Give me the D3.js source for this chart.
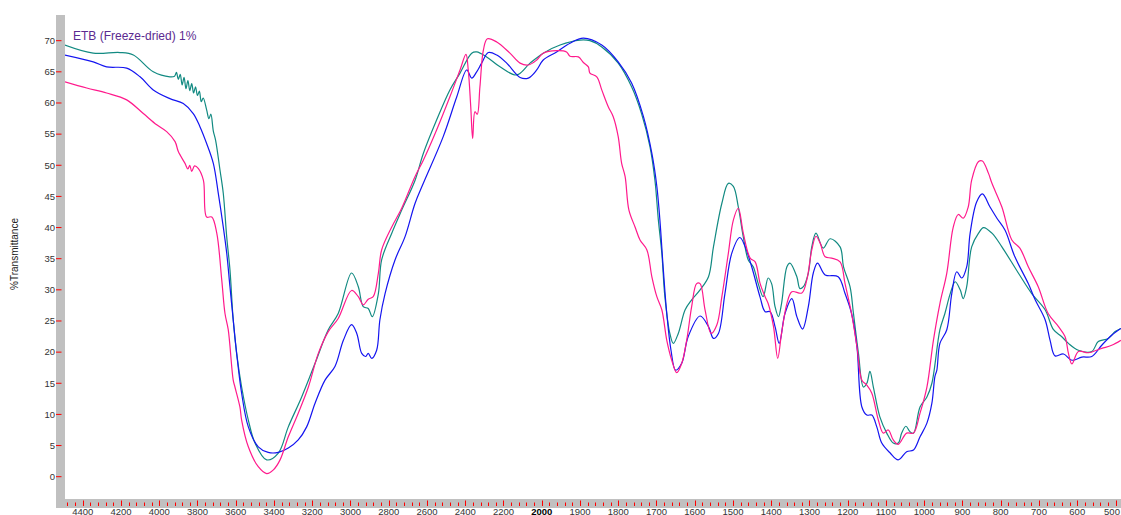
<!DOCTYPE html>
<html>
<head>
<meta charset="utf-8">
<script src="https://cdn.jsdelivr.net/npm/d3@7"></script>
<style>
  html, body { margin: 0; padding: 0; background: #fff; }
  svg { display: block; font-family: "Liberation Sans", Arial, sans-serif; }
</style>
</head>
<body>
<svg id="chart" width="1121" height="515"></svg>
<script>
// Spectrum title and axis labels
const chartTitle = "ETB (Freeze-dried) 1%";
const yAxisTitle = "%Transmittance";

// Axis ticks
const yTickValues = [0, 5, 10, 15, 20, 25, 30, 35, 40, 45, 50, 55, 60, 65, 70];
const xTickValues = [4400, 4200, 4000, 3800, 3600, 3400, 3200, 3000, 2800, 2600, 2400, 2200, 2000,
                     1900, 1800, 1700, 1600, 1500, 1400, 1300, 1200, 1100, 1000, 900, 800, 700, 600, 500];

// Spectra: [wavenumber cm-1, %T]
const tealSpectrum = [
  [4493,69.3],[4345,68.0],[4205,68.1],[4135,67.7],[4031,65.0],[3944,64.2],
  [3920,64.3],[3910,64.9],[3900,63.8],[3890,64.6],[3880,62.9],[3870,64.1],[3860,62.3],
  [3850,63.6],[3840,62.0],[3830,63.1],[3820,61.6],[3810,62.6],[3800,61.2],[3790,61.9],
  [3780,60.2],[3770,60.8],[3752,58.9],[3740,57.5],[3730,58.2],[3717,55.5],[3705,54.0],
  [3682,49.2],[3665,45.5],[3647,38.5],[3630,33.2],[3613,25.2],[3595,19.8],[3569,14.4],
  [3534,9.1],[3499,5.4],[3438,2.7],[3377,3.8],[3325,8.0],[3255,12.8],[3185,18.2],
  [3116,23.6],[3064,26.2],[2994,32.7],[2959,30.5],[2933,27.3],[2907,27.0],[2886,25.7],
  [2854,29.4],[2837,34.8],[2784,39.1],[2732,42.8],[2662,47.6],[2619,51.9],[2549,57.3],
  [2480,62.1],[2427,64.8],[2366,68.0],[2340,68.2],[2288,67.4],[2218,65.8],[2131,64.5],
  [2061,66.4],[1996,68.0],[1952,69.3],[1900,70.1],[1874,70.0],[1843,69.0],[1800,66.4],
  [1765,62.6],[1739,58.3],[1717,53.0],[1704,47.6],[1695,41.2],[1686,35.9],[1678,28.9],
  [1665,23.0],[1656,21.4],[1643,23.0],[1625,26.8],[1608,28.4],[1586,30.0],[1564,32.1],
  [1551,36.9],[1529,43.9],[1512,47.1],[1499,46.6],[1486,43.3],[1473,38.5],[1460,34.8],
  [1447,33.7],[1434,31.0],[1421,28.9],[1408,31.9],[1399,31.0],[1390,27.3],[1381,25.7],
  [1373,27.8],[1359,33.7],[1351,34.3],[1333,32.1],[1325,30.2],[1316,30.5],[1303,32.7],
  [1294,36.9],[1283,39.1],[1264,36.7],[1246,38.2],[1220,36.9],[1211,33.7],[1194,30.5],
  [1185,26.2],[1172,19.8],[1159,14.4],[1150,15.0],[1142,16.9],[1133,14.4],[1116,9.6],
  [1098,7.0],[1081,5.4],[1068,5.4],[1059,7.0],[1048,8.1],[1037,7.2],[1028,7.0],
  [1011,11.2],[993,12.8],[980,15.0],[959,23.6],[946,26.2],[932,29.4],[919,31.3],
  [906,30.0],[898,28.6],[889,30.5],[876,36.9],[858,39.1],[845,40.0],[823,39.1],
  [797,36.9],[754,32.7],[719,29.4],[684,26.8],[662,23.6],[641,22.5],[623,21.4],
  [597,20.3],[562,20.1],[545,21.7],[519,22.2],[501,23.3],[486,23.8]
];

const blueSpectrum = [
  [4493,67.7],[4345,66.6],[4275,65.8],[4170,65.6],[4100,64.2],[4031,62.1],[3944,60.7],
  [3874,59.9],[3822,58.3],[3787,56.2],[3752,53.5],[3717,50.3],[3691,45.5],[3665,40.1],
  [3647,35.9],[3630,30.5],[3613,25.2],[3595,19.8],[3569,13.4],[3534,8.0],[3482,4.8],
  [3430,3.9],[3377,3.9],[3325,4.6],[3273,5.9],[3229,8.0],[3185,11.8],[3133,15.5],
  [3081,17.7],[3037,21.9],[2994,24.4],[2967,23.0],[2941,19.8],[2920,19.3],[2907,19.8],
  [2889,19.0],[2863,20.3],[2846,25.2],[2819,29.4],[2767,34.8],[2715,38.5],[2662,43.9],
  [2619,47.1],[2515,54.6],[2444,61.0],[2392,65.3],[2366,64.0],[2340,65.0],[2314,66.4],
  [2279,68.1],[2235,67.7],[2183,66.4],[2113,64.1],[2070,64.0],[2026,65.3],[1996,66.9],
  [1961,68.2],[1926,69.6],[1891,70.4],[1843,69.3],[1800,66.6],[1765,63.2],[1734,57.8],
  [1712,51.9],[1699,46.6],[1691,41.2],[1682,33.2],[1673,26.2],[1662,20.3],[1650,17.1],
  [1634,18.2],[1617,22.5],[1586,25.8],[1564,24.1],[1551,22.2],[1538,23.0],[1521,29.4],
  [1503,35.9],[1482,38.4],[1468,36.9],[1451,33.7],[1429,28.8],[1416,26.5],[1403,26.5],
  [1390,24.1],[1379,21.4],[1364,26.2],[1346,28.6],[1333,25.7],[1318,23.7],[1303,27.3],
  [1290,32.7],[1279,34.3],[1259,32.4],[1225,32.1],[1207,29.4],[1190,26.2],[1176,20.9],
  [1163,11.2],[1150,9.9],[1137,9.9],[1124,8.0],[1111,5.4],[1089,3.8],[1068,2.7],
  [1046,4.0],[1028,4.3],[1011,6.4],[993,8.6],[980,11.8],[972,16.1],[967,17.1],
  [959,21.4],[941,23.6],[928,29.4],[915,32.9],[902,31.9],[889,33.7],[880,39.1],
  [863,44.1],[848,45.4],[828,43.3],[810,41.5],[789,39.6],[763,35.3],[728,31.0],
  [710,28.4],[684,25.2],[671,21.9],[658,19.4],[636,19.7],[614,18.7],[588,19.2],
  [562,19.3],[536,21.1],[510,22.7],[486,23.8]
];

const magentaSpectrum = [
  [4493,63.4],[4379,62.4],[4275,61.6],[4170,60.5],[4083,58.3],[4013,56.5],[3961,55.4],
  [3917,53.8],[3900,52.2],[3865,50.3],[3850,49.4],[3840,50.0],[3830,49.0],[3815,49.9],
  [3796,49.5],[3769,47.6],[3752,41.7],[3725,41.7],[3699,39.1],[3673,31.6],[3656,26.2],
  [3639,23.6],[3613,15.5],[3604,14.4],[3578,11.2],[3569,9.1],[3534,4.8],[3482,1.6],
  [3438,0.5],[3403,1.1],[3368,2.7],[3325,6.4],[3273,10.2],[3220,14.4],[3168,19.8],
  [3116,23.3],[3064,25.4],[2994,29.9],[2959,28.9],[2933,27.6],[2907,28.5],[2881,28.9],
  [2854,32.7],[2837,36.4],[2784,40.1],[2732,43.1],[2662,48.2],[2619,50.8],[2549,55.7],
  [2480,61.0],[2427,65.3],[2396,67.8],[2384,65.3],[2371,59.4],[2361,54.3],[2349,58.6],
  [2337,58.2],[2323,62.6],[2305,68.5],[2284,70.3],[2235,69.8],[2166,68.0],[2113,66.4],
  [2070,66.1],[2026,66.9],[1996,68.0],[1961,68.4],[1935,68.2],[1926,67.5],[1904,67.4],
  [1891,66.5],[1878,65.8],[1874,64.8],[1856,64.2],[1843,62.1],[1826,59.4],[1813,57.8],
  [1800,54.6],[1791,50.3],[1782,48.2],[1772,42.8],[1756,40.1],[1743,38.0],[1725,36.4],
  [1712,32.1],[1699,28.9],[1686,26.8],[1673,21.9],[1660,18.7],[1647,16.7],[1634,18.2],
  [1621,21.9],[1608,27.3],[1595,31.0],[1586,31.0],[1573,26.8],[1557,23.0],[1542,24.4],
  [1529,28.9],[1512,35.9],[1499,41.2],[1486,43.1],[1473,39.1],[1455,35.1],[1442,34.5],
  [1429,31.0],[1416,28.9],[1408,27.8],[1394,24.1],[1383,19.0],[1373,23.0],[1359,27.8],
  [1346,29.7],[1320,29.5],[1307,31.6],[1294,36.4],[1283,38.6],[1272,37.5],[1259,35.3],
  [1242,35.1],[1220,34.5],[1207,31.0],[1190,26.2],[1176,20.9],[1163,15.5],[1150,14.7],
  [1137,13.4],[1120,9.1],[1107,7.0],[1094,7.5],[1081,5.9],[1068,5.2],[1046,7.0],
  [1028,7.0],[1011,10.2],[993,14.4],[976,21.9],[959,27.8],[941,32.7],[924,40.1],
  [911,42.1],[898,41.5],[885,43.3],[876,47.6],[858,50.6],[848,50.7],[832,48.7],
  [823,47.1],[797,43.3],[771,38.0],[750,36.7],[728,33.7],[702,30.5],[676,26.2],
  [649,24.1],[632,22.5],[623,19.8],[614,18.1],[597,20.1],[571,19.9],[536,20.6],
  [510,21.1],[486,21.9]
];

const series = [
  { name: "teal", data: tealSpectrum, color: "#128a82" },
  { name: "blue", data: blueSpectrum, color: "#1414f0" },
  { name: "magenta", data: magentaSpectrum, color: "#ff1a8c" }
];

// Layout
const W = 1121, H = 515;
const plot = { left: 65, right: 1121, top: 15, bottom: 499 };
const barW = 9;              // grey axis band thickness
const grey = "#c0c0c0";
const tickRed = "#ff0000";

const svg = d3.select("#chart");

// Wavenumber axis: 2x expansion below 2000 cm-1
const x = d3.scaleLinear()
  .domain([4400, 2000, 500])
  .range([82.7, 541.7, 1115.5]);

const y = d3.scaleLinear()
  .domain([0, 70])
  .range([476.7, 40.7]);

// Clip for the plot area
svg.append("defs").append("clipPath").attr("id", "plotClip")
  .append("rect")
  .attr("x", plot.left).attr("y", plot.top)
  .attr("width", plot.right - plot.left).attr("height", plot.bottom - plot.top);

// Grey axis bands
svg.append("rect")
  .attr("x", plot.left - barW).attr("y", plot.top)
  .attr("width", barW).attr("height", plot.bottom + barW - plot.top)
  .attr("fill", grey);
svg.append("rect")
  .attr("x", plot.left - barW).attr("y", plot.bottom)
  .attr("width", plot.right - plot.left + barW).attr("height", barW)
  .attr("fill", grey);

// Y axis ticks and labels
const yAxis = svg.append("g");
yAxis.selectAll("line").data(yTickValues).join("line")
  .attr("x1", plot.left - barW).attr("x2", plot.left - 3.5)
  .attr("y1", d => y(d)).attr("y2", d => y(d))
  .attr("stroke", tickRed).attr("stroke-width", 1);
yAxis.selectAll("text").data(yTickValues).join("text")
  .attr("x", plot.left - barW - 1)
  .attr("y", d => y(d))
  .attr("dy", "0.35em")
  .attr("text-anchor", "end")
  .attr("font-size", "9.5px")
  .attr("fill", "#333")
  .text(d => d);

// X axis minor ticks (every 40 above 2000, every 20 below)
const minorTicks = d3.range(4480, 2000, -40).concat(d3.range(2000, 480, -20))
  .filter(d => !xTickValues.includes(d) && d !== 2000);
const xAxis = svg.append("g");
xAxis.selectAll("line.minor").data(minorTicks).join("line")
  .attr("class", "minor")
  .attr("x1", d => Math.round(x(d)) + 0.5).attr("x2", d => Math.round(x(d)) + 0.5)
  .attr("y1", plot.bottom + 3.5).attr("y2", plot.bottom + 7)
  .attr("stroke", tickRed).attr("stroke-width", 1);
xAxis.selectAll("line.major").data(xTickValues).join("line")
  .attr("class", "major")
  .attr("x1", d => Math.round(x(d)) + 0.5).attr("x2", d => Math.round(x(d)) + 0.5)
  .attr("y1", plot.bottom + 1.5).attr("y2", plot.bottom + 7)
  .attr("stroke", tickRed).attr("stroke-width", 1);
xAxis.selectAll("text").data(xTickValues).join("text")
  .attr("x", d => Math.min(x(d), W - 9))
  .attr("y", plot.bottom + 15.5)
  .attr("text-anchor", "middle")
  .attr("font-size", "9.5px")
  .attr("font-weight", d => d === 2000 ? "bold" : "normal")
  .attr("fill", d => d === 2000 ? "#000" : "#333")
  .text(d => d);

// Spectra
const line = d3.line()
  .x(d => x(d[0]))
  .y(d => y(d[1]))
  .curve(d3.curveCatmullRom.alpha(0.5));

svg.append("g").attr("clip-path", "url(#plotClip)")
  .selectAll("path").data(series).join("path")
  .attr("d", d => line(d.data))
  .attr("fill", "none")
  .attr("stroke", d => d.color)
  .attr("stroke-width", 1.2)
  .attr("stroke-linejoin", "round");

// Title
svg.append("text")
  .attr("x", 73).attr("y", 39.5)
  .attr("font-size", "12px")
  .attr("fill", "#5b2a90")
  .text(chartTitle);

// Y axis title
svg.append("text")
  .attr("transform", "translate(18,254) rotate(-90)")
  .attr("text-anchor", "middle")
  .attr("font-size", "10px")
  .attr("fill", "#222")
  .text(yAxisTitle);
</script>
</body>
</html>
